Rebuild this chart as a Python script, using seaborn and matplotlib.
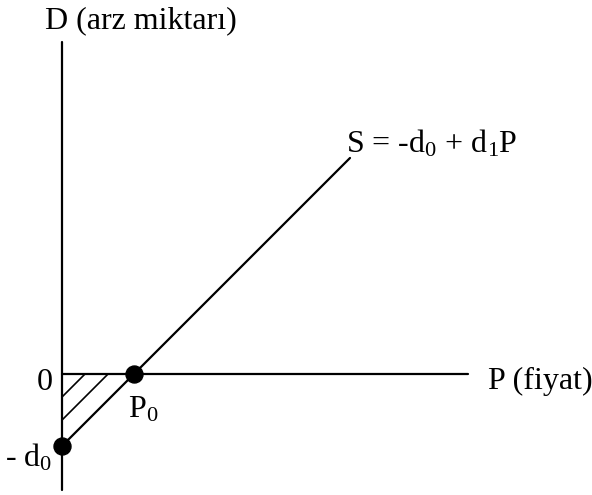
import numpy as np
import pandas as pd
import matplotlib
matplotlib.use("Agg")
import matplotlib.pyplot as plt
import seaborn as sns

# supply curve S = -d0 + d1*P, with d0 = 1, d1 = 1
d0 = 1.0
d1 = 1.0
p_line = [0.0, 4.0]
s_line = [-d0 + d1 * p for p in p_line]
p0 = d0 / d1
hatch_offsets = [0.32, 0.64]

sns.set_style("white")
plt.rcParams["font.family"] = ["Liberation Serif", "DejaVu Serif"]
plt.rcParams["text.color"] = "black"
plt.rcParams["mathtext.fontset"] = "custom"
plt.rcParams["mathtext.rm"] = "Liberation Serif"
plt.rcParams["mathtext.it"] = "Liberation Serif"

fig = plt.figure(figsize=(5.92, 4.95), dpi=100)
ax = fig.add_axes([0, 0, 1, 1])
ax.set_xlim(-0.861, 7.361)
ax.set_ylim(-1.681, 5.194)
ax.axis("off")

# axes
ax.plot([0, 0], [-1.61, 4.61], color="black", lw=1.6)
ax.plot([0, 5.64], [0, 0], color="black", lw=1.6)

df = pd.DataFrame({"P": p_line, "S": s_line})
sns.lineplot(data=df, x="P", y="S", color="black", lw=1.6, ax=ax)

# hatching in the triangle
for c in hatch_offsets:
    ax.plot([0, c], [-c, 0], color="black", lw=1.2)

pts = pd.DataFrame({"P": [0.0, p0], "S": [-d0, 0.0]})
sns.scatterplot(data=pts, x="P", y="S", color="black", s=150, ax=ax, zorder=5,
                edgecolor="black")

fs = 23
ax.text(-0.24, -0.12, "0", fontsize=fs, ha="center", va="center")
ax.text(0.92, -0.5, "P$_0$", fontsize=fs, ha="left", va="center")
ax.text(-0.46, -1.17, "- d$_0$", fontsize=fs, ha="center", va="center")
ax.text(3.94, 3.2, "S = -d$_0$ + d$_1$P", fontsize=fs, ha="left", va="center")
ax.text(-0.24, 4.9, "D (arz miktarı)", fontsize=fs, ha="left", va="center")
ax.text(5.92, -0.11, "P (fiyat)", fontsize=fs, ha="left", va="center")

fig.savefig("out.png", dpi=100)
